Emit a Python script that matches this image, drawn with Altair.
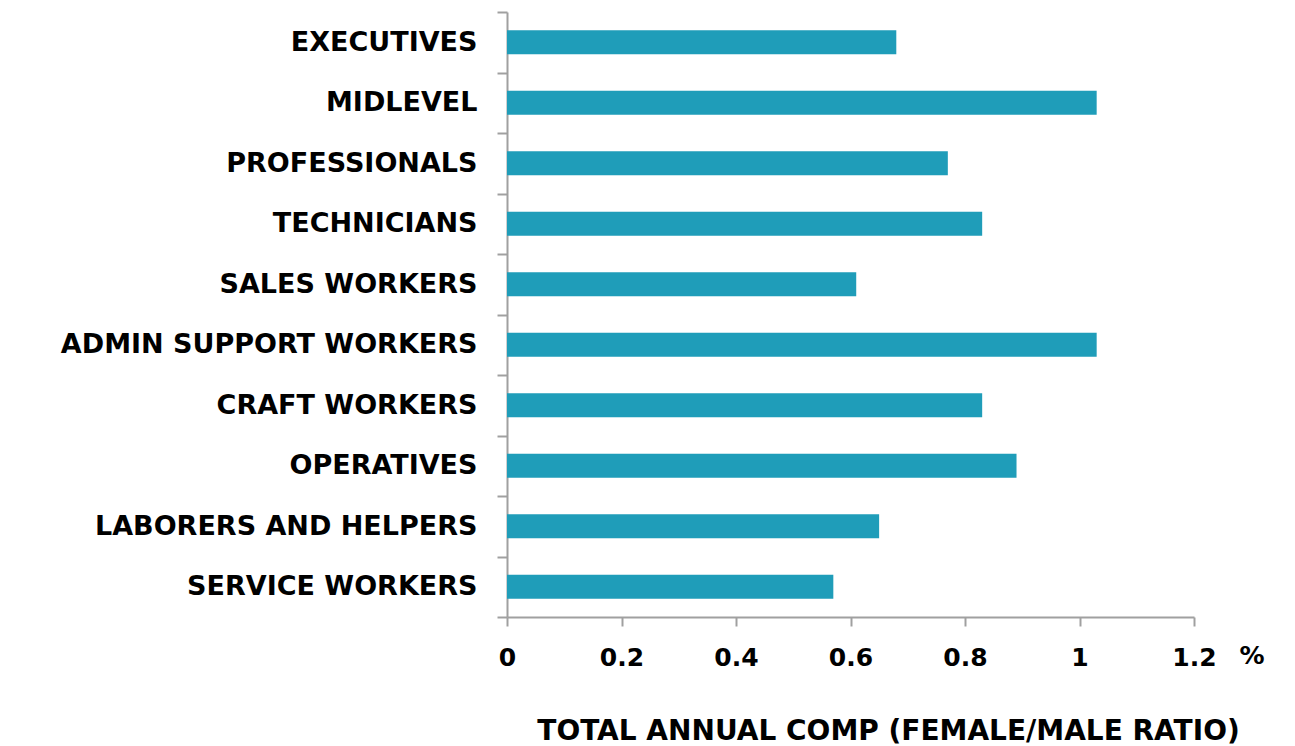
import altair as alt
import pandas as pd

categories = ["EXECUTIVES", "MIDLEVEL", "PROFESSIONALS", "TECHNICIANS", "SALES WORKERS",
              "ADMIN SUPPORT WORKERS", "CRAFT WORKERS", "OPERATIVES", "LABORERS AND HELPERS",
              "SERVICE WORKERS"]
ratios = [0.68, 1.03, 0.77, 0.83, 0.61, 1.03, 0.83, 0.89, 0.65, 0.57]
x_ticks = [0, 0.2, 0.4, 0.6, 0.8, 1.0, 1.2]

df = pd.DataFrame({"cat": categories, "ratio": ratios})

FONT = "DejaVu Sans"
W, H = 687, 605

bars = alt.Chart(df).mark_bar(color="#1F9DB9", height={"band": 0.4}).encode(
    x=alt.X("ratio:Q",
            scale=alt.Scale(domain=[0, 1.2], nice=False),
            axis=alt.Axis(values=x_ticks, grid=False, domainColor="#A0A0A0", domainWidth=2,
                          tickColor="#A0A0A0", tickWidth=2, tickSize=9,
                          labelFont=FONT, labelFontSize=25, labelFontWeight="bold",
                          labelColor="black", labelPadding=19, labelFlush=False,
                          labelExpr="datum.value == 1 ? '1' : format(datum.value, '.1~f')",
                          title="TOTAL ANNUAL COMP (FEMALE/MALE RATIO)",
                          titleFont=FONT, titleFontSize=28, titleFontWeight="bold",
                          titleColor="black", titlePadding=47, titleX=381)),
    y=alt.Y("cat:N", sort=categories,
            scale=alt.Scale(paddingInner=0, paddingOuter=0),
            axis=alt.Axis(title=None, domainColor="#A0A0A0", domainWidth=2,
                          tickColor="#A0A0A0", tickWidth=2, tickSize=10, tickBand="extent",
                          labelFont=FONT, labelFontSize=27, labelFontWeight="bold",
                          labelColor="black", labelPadding=20, labelLimit=0)),
)

pct = alt.Chart(pd.DataFrame({"t": ["%"]})).mark_text(
    font=FONT, fontSize=25, fontWeight="bold", color="black", align="center", baseline="middle"
).encode(x=alt.datum(1.2), y=alt.value(H + 39), text="t:N", xOffset=alt.value(58))

chart = alt.layer(bars, pct).properties(
    width=W, height=H,
    autosize=alt.AutoSizeParams(type="none"),
    padding={"left": 499, "top": 4, "right": 90, "bottom": 129},
).configure_view(stroke=None)

chart.save("out.html", embed_options={"renderer": "svg", "actions": False})
